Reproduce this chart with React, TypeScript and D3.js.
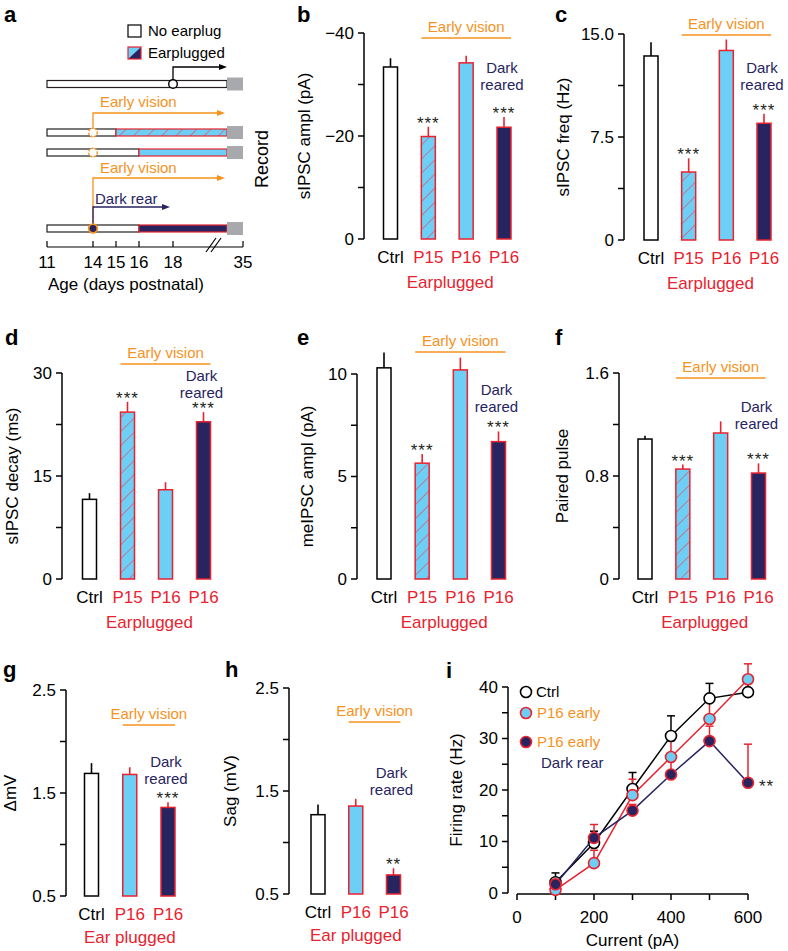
import React from "react";
import * as d3 from "d3";

const FONT = "'Liberation Sans', Arial, Helvetica, sans-serif";
const RED = "#E8232F";
const BLUE = "#6DCFF6";
const NAVY = "#27245F";
const ORANGE = "#F6921E";
const GRAY = "#A7A9AC";
const HATCH = "#D9576A";

// ---------- data ----------
const cats4 = ["Ctrl", "P15", "P16", "P16"];
const kinds4 = ["ctrl", "hatch", "blue", "dark"];
const cats3 = ["Ctrl", "P16", "P16"];
const kinds3 = ["ctrl", "blue", "dark"];

const amplMean = [-33.4, -19.9, -34.2, -21.7];
const amplSem = [1.7, 1.9, 1.4, 2.0];
const amplStars = ["", "***", "", "***"];
const amplTicks = [0, -10, -20, -30, -40];
const amplTickLabels = ["0", "", "\u221220", "", "\u221240"];

const freqMean = [13.4, 4.95, 13.8, 8.5];
const freqSem = [1.0, 1.0, 0.8, 0.7];
const freqStars = ["", "***", "", "***"];
const freqTicks = [0, 3.75, 7.5, 11.25, 15];
const freqTickLabels = ["0", "", "7.5", "", "15.0"];

const decayMean = [11.6, 24.3, 13.0, 22.9];
const decaySem = [0.9, 1.5, 1.1, 1.4];
const decayStars = ["", "***", "", "***"];
const decayTicks = [0, 7.5, 15, 22.5, 30];
const decayTickLabels = ["0", "", "15", "", "30"];

const meMean = [10.3, 5.65, 10.2, 6.7];
const meSem = [0.75, 0.45, 0.6, 0.5];
const meStars = ["", "***", "", "***"];
const meTicks = [0, 2.5, 5, 7.5, 10];
const meTickLabels = ["0", "", "5", "", "10"];

const ppMean = [1.087, 0.854, 1.134, 0.823];
const ppSem = [0.025, 0.035, 0.09, 0.075];
const ppStars = ["", "***", "", "***"];
const ppTicks = [0, 0.4, 0.8, 1.2, 1.6];
const ppTickLabels = ["0", "", "0.8", "", "1.6"];

const dmvMean = [1.69, 1.68, 1.36];
const dmvSem = [0.1, 0.07, 0.05];
const dmvStars = ["", "", "***"];
const sagMean = [1.27, 1.354, 0.685];
const sagSem = [0.1, 0.07, 0.065];
const sagStars = ["", "", "**"];
const mvTicks = [0.5, 1.0, 1.5, 2.0, 2.5];
const mvTickLabels = ["0.5", "", "1.5", "", "2.5"];

const currents = [100, 200, 300, 400, 500, 600];
const ctrlRate = [2.1, 9.7, 20.2, 30.5, 37.8, 39.0];
const ctrlRateSem = [1.8, 2.3, 3.2, 3.9, 2.9, 2.4];
const earlyRate = [0.6, 5.8, 19.0, 26.4, 33.8, 41.5];
const earlyRateSem = [1.5, 2.5, 3.1, 3.2, 3.3, 3.0];
const darkRate = [1.7, 10.7, 16.0, 23.0, 29.5, 21.4];
const darkRateSem = [1.0, 2.6, 1.2, 3.5, 2.9, 7.5];
const rateTicks = [0, 5, 10, 15, 20, 25, 30, 35, 40];
const currentTicks = [0, 100, 200, 300, 400, 500, 600];

const ageTicks = [11, 14, 15, 16, 18, 35];
const rowPlugStart = [null, 15, 16, 16];
const rowPlugKind = ["none", "hatch", "blue", "dark"];
const rowMarkerDay = [18, 14, 14, 14];
const rowMarkerKind = ["open", "dashed", "dashed", "dark"];

// ---------- helpers ----------
const fillFor = (k: string) =>
  k === "ctrl" ? "#fff" : k === "hatch" ? "url(#hatch)" : k === "blue" ? BLUE : NAVY;
const strokeFor = (k: string) => (k === "ctrl" ? "#000" : RED);

type BarPanelProps = {
  letter: string;
  letterX: number;
  letterY: number;
  axisX: number;
  y0: number;
  y1: number;
  domain: [number, number];
  ticks: number[];
  tickLabels: string[];
  firstCenter: number;
  lastCenter: number;
  cats: string[];
  kinds: string[];
  means: number[];
  sems: number[];
  stars: string[];
  yTitle: string;
  yTitleX: number;
  earlyY: number;
  darkY: number;
  groupLabel: string;
  groupDy: number;
};

function BarPanel(p: BarPanelProps) {
  const y = d3.scaleLinear().domain(p.domain).range([p.y0, p.y1]);
  const n = p.means.length;
  const x = d3.scalePoint<number>().domain(d3.range(n)).range([p.firstCenter, p.lastCenter]);
  const bw = 14;
  const sign = p.domain[1] < p.domain[0] ? -1 : 1;
  const base = p.domain[0];
  const cx = (i: number) => x(i) as number;
  const groupX = n === 4 ? (cx(1) + cx(2)) / 2 + 3 : cx(1);
  const yMid = (p.y0 + p.y1) / 2;
  return (
    <g fontFamily={FONT}>
      <text x={p.letterX} y={p.letterY} fontSize={22} fontWeight="bold">
        {p.letter}
      </text>
      <line x1={p.axisX} x2={p.axisX} y1={p.y0} y2={p.y1} stroke="#000" strokeWidth={1.5} />
      {p.ticks.map((t, i) => (
        <g key={i}>
          <line x1={p.axisX - 6} x2={p.axisX} y1={y(t)} y2={y(t)} stroke="#000" strokeWidth={1.5} />
          {p.tickLabels[i] && (
            <text x={p.axisX - 10} y={y(t)} dy="0.35em" textAnchor="end" fontSize={17}>
              {p.tickLabels[i]}
            </text>
          )}
        </g>
      ))}
      <text
        transform={`translate(${p.yTitleX},${yMid}) rotate(-90)`}
        textAnchor="middle"
        fontSize={17}
      >
        {p.yTitle}
      </text>
      {p.means.map((m, i) => {
        const top = Math.min(y(base), y(m));
        const h = Math.abs(y(base) - y(m));
        const errY = y(m + sign * p.sems[i]);
        return (
          <g key={i}>
            <line x1={cx(i)} x2={cx(i)} y1={y(m)} y2={errY} stroke={strokeFor(p.kinds[i])} strokeWidth={1.6} />
            <rect
              x={cx(i) - bw / 2}
              y={top}
              width={bw}
              height={h}
              fill={fillFor(p.kinds[i])}
              stroke={strokeFor(p.kinds[i])}
              strokeWidth={1.5}
            />
            {p.stars[i] && (
              <text x={cx(i)} y={errY + 2} textAnchor="middle" fontSize={17} letterSpacing={1} fill="#231F20">
                {p.stars[i]}
              </text>
            )}
            <text
              x={cx(i)}
              y={p.y0 + 24}
              textAnchor="middle"
              fontSize={17}
              fill={p.kinds[i] === "ctrl" ? "#000" : RED}
            >
              {p.cats[i]}
            </text>
          </g>
        );
      })}
      <text x={groupX} y={p.y0 + p.groupDy} textAnchor="middle" fontSize={17} fill={RED}>
        {p.groupLabel}
      </text>
      <line
        x1={cx(1) - bw / 2}
        x2={cx(n - 1) + bw / 2}
        y1={p.earlyY}
        y2={p.earlyY}
        stroke={ORANGE}
        strokeWidth={1.6}
      />
      <text
        x={(cx(1) + cx(n - 1)) / 2}
        y={p.earlyY - 6}
        textAnchor="middle"
        fontSize={15}
        fill={ORANGE}
      >
        Early vision
      </text>
      <text x={cx(n - 1) - 2} y={p.darkY} textAnchor="middle" fontSize={15} fill={NAVY}>
        Dark
      </text>
      <text x={cx(n - 1) - 2} y={p.darkY + 17} textAnchor="middle" fontSize={15} fill={NAVY}>
        reared
      </text>
    </g>
  );
}

function Arrow({ d, color, tipX, tipY }: { d: string; color: string; tipX: number; tipY: number }) {
  return (
    <g>
      <path d={d} fill="none" stroke={color} strokeWidth={1.3} />
      <polygon points={`${tipX},${tipY} ${tipX - 8},${tipY - 3} ${tipX - 8},${tipY + 3}`} fill={color} />
    </g>
  );
}

function PanelA() {
  const ax = d3.scaleLinear().domain(ageTicks).range([47, 93, 116, 139, 173, 243]);
  const rowY = [84, 132.5, 152.5, 228.5];
  const barH = 7;
  const endX = ax(35) - 16;
  return (
    <g fontFamily={FONT}>
      <text x={4} y={22} fontSize={22} fontWeight="bold">
        a
      </text>
      {/* legend */}
      <rect x={128} y={25} width={13} height={12} fill="#fff" stroke="#000" strokeWidth={1.2} />
      <text x={148} y={36} fontSize={15}>
        No earplug
      </text>
      <polygon points="128,47 141,47 128,59" fill={BLUE} />
      <polygon points="141,47 141,59 128,59" fill={NAVY} />
      <rect x={128} y={47} width={13} height={12} fill="none" stroke={RED} strokeWidth={1.2} />
      <text x={148} y={58} fontSize={15}>
        Earplugged
      </text>

      {/* arrows */}
      <Arrow d={`M${ax(18)},${rowY[0] - 4} V67 H222`} color="#000" tipX={227} tipY={67} />
      <text x={100} y={107} fontSize={15} fill={ORANGE}>
        Early vision
      </text>
      <Arrow d={`M${ax(14)},${rowY[1] - 4} V113 H220`} color={ORANGE} tipX={225} tipY={113} />
      <text x={100} y={173} fontSize={15} fill={ORANGE}>
        Early vision
      </text>
      <Arrow d={`M${ax(14)},${rowY[3] - 4} V178 H220`} color={ORANGE} tipX={225} tipY={178} />
      <text x={95} y={204} fontSize={15} fill={NAVY}>
        Dark rear
      </text>
      <Arrow d={`M${ax(14)},${rowY[3] - 4} V207 H165`} color={NAVY} tipX={170} tipY={207} />

      {rowY.map((ry, i) => {
        const ps = rowPlugStart[i];
        const whiteEnd = ps == null ? endX : ax(ps);
        const kind = rowPlugKind[i];
        const mk = rowMarkerKind[i];
        return (
          <g key={i}>
            <rect
              x={ax(11)}
              y={ry - barH / 2}
              width={whiteEnd - ax(11)}
              height={barH}
              fill="#fff"
              stroke="#231F20"
              strokeWidth={1.2}
            />
            {ps != null && (
              <rect
                x={ax(ps)}
                y={ry - barH / 2}
                width={endX - ax(ps)}
                height={barH}
                fill={fillFor(kind)}
                stroke={RED}
                strokeWidth={1.2}
              />
            )}
            <rect x={endX} y={ry - 6.5} width={ax(35) - endX} height={13} fill={GRAY} />
            <circle
              cx={ax(rowMarkerDay[i])}
              cy={ry}
              r={4.3}
              fill={mk === "dark" ? NAVY : "#fff"}
              stroke={mk === "open" ? "#000" : ORANGE}
              strokeWidth={mk === "dark" ? 1.8 : 1.4}
              strokeDasharray={mk === "dashed" ? "2.2 1.4" : undefined}
            />
          </g>
        );
      })}
      <text transform={`translate(268,159) rotate(-90)`} textAnchor="middle" fontSize={18}>
        Record
      </text>

      {/* axis */}
      <line x1={ax(11)} x2={ax(35)} y1={247} y2={247} stroke="#000" strokeWidth={1.2} />
      {ageTicks.map((t) => (
        <g key={t}>
          <line x1={ax(t)} x2={ax(t)} y1={241} y2={247} stroke="#000" strokeWidth={1.2} />
          <text x={ax(t)} y={268} textAnchor="middle" fontSize={17}>
            {t}
          </text>
        </g>
      ))}
      <line x1={206} y1={252} x2={216} y2={238} stroke="#000" strokeWidth={1.2} />
      <line x1={211} y1={252} x2={221} y2={238} stroke="#000" strokeWidth={1.2} />
      <text x={126} y={290} textAnchor="middle" fontSize={17}>
        Age (days postnatal)
      </text>
    </g>
  );
}

function PanelI() {
  const x = d3.scaleLinear().domain([0, 600]).range([517, 748]);
  const y = d3.scaleLinear().domain([0, 40]).range([893, 687]);
  const axisX = 508;
  const line = d3
    .line<number>()
    .x((_, i) => x(currents[i]))
    .y((v) => y(v));
  const series = [
    { vals: ctrlRate, sems: ctrlRateSem, stroke: "#000", fill: "#fff", line: "#000", err: "#000" },
    { vals: earlyRate, sems: earlyRateSem, stroke: RED, fill: BLUE, line: RED, err: RED },
    { vals: darkRate, sems: darkRateSem, stroke: RED, fill: NAVY, line: NAVY, err: RED },
  ];
  return (
    <g fontFamily={FONT}>
      <text x={446} y={678} fontSize={22} fontWeight="bold">
        i
      </text>
      <line x1={axisX} x2={axisX} y1={y(0)} y2={y(40)} stroke="#000" strokeWidth={1.5} />
      {rateTicks.map((t) => (
        <g key={t}>
          <line x1={axisX - 6} x2={axisX} y1={y(t)} y2={y(t)} stroke="#000" strokeWidth={1.5} />
          {t % 10 === 0 && (
            <text x={axisX - 10} y={y(t)} dy="0.35em" textAnchor="end" fontSize={17}>
              {t}
            </text>
          )}
        </g>
      ))}
      <line x1={x(0)} x2={x(600)} y1={y(0) + 1} y2={y(0) + 1} stroke="#000" strokeWidth={1.5} />
      {currentTicks.map((t) => (
        <g key={t}>
          <line x1={x(t)} x2={x(t)} y1={y(0) + 1} y2={y(0) + 7} stroke="#000" strokeWidth={1.5} />
          {t % 200 === 0 && (
            <text x={x(t)} y={y(0) + 30} textAnchor="middle" fontSize={17}>
              {t}
            </text>
          )}
        </g>
      ))}
      <text x={(x(0) + x(600)) / 2} y={946} textAnchor="middle" fontSize={17}>
        Current (pA)
      </text>
      <text transform={`translate(462,${(y(0) + y(40)) / 2}) rotate(-90)`} textAnchor="middle" fontSize={17}>
        Firing rate (Hz)
      </text>
      {series.map((s, si) => (
        <g key={"e" + si}>
          {s.vals.map((v, i) => (
            <g key={i}>
              <line x1={x(currents[i])} x2={x(currents[i])} y1={y(v)} y2={y(v + s.sems[i])} stroke={s.err} strokeWidth={1.5} />
              <line
                x1={x(currents[i]) - 4}
                x2={x(currents[i]) + 4}
                y1={y(v + s.sems[i])}
                y2={y(v + s.sems[i])}
                stroke={s.err}
                strokeWidth={1.5}
              />
            </g>
          ))}
        </g>
      ))}
      {series.map((s, si) => (
        <g key={"s" + si}>
          <path d={line(s.vals) || ""} fill="none" stroke={s.line} strokeWidth={1.5} />
          {s.vals.map((v, i) => (
            <circle key={i} cx={x(currents[i])} cy={y(v)} r={5.5} fill={s.fill} stroke={s.stroke} strokeWidth={1.6} />
          ))}
        </g>
      ))}
      <text x={x(600) + 11} y={y(darkRate[5]) + 9} fontSize={17} letterSpacing={1} fill="#231F20">
        **
      </text>
      {/* legend */}
      <circle cx={526} cy={692} r={5.5} fill="#fff" stroke="#000" strokeWidth={1.6} />
      <text x={536} y={697} fontSize={15}>
        Ctrl
      </text>
      <circle cx={526} cy={713} r={5.5} fill={BLUE} stroke={RED} strokeWidth={1.6} />
      <text x={537} y={718} fontSize={15} fill={ORANGE}>
        P16 early
      </text>
      <circle cx={526} cy={742} r={5.5} fill={NAVY} stroke={RED} strokeWidth={1.6} />
      <text x={537} y={747} fontSize={15} fill={ORANGE}>
        P16 early
      </text>
      <text x={541} y={768} fontSize={15} fill={NAVY}>
        Dark rear
      </text>
    </g>
  );
}

export default function App() {
  return (
    <svg
      width={788}
      height={951}
      style={{ position: "absolute", left: 0, top: 0, background: "#fff" }}
    >
      <defs>
        <pattern id="hatch" patternUnits="userSpaceOnUse" width={10} height={10} patternTransform="rotate(45)">
          <rect width={10} height={10} fill={BLUE} />
          <line x1={0} y1={0} x2={0} y2={10} stroke={HATCH} strokeWidth={1.4} />
        </pattern>
      </defs>
      <rect width={788} height={951} fill="#fff" />
      <PanelA />
      <BarPanel
        letter="b" letterX={297} letterY={22} axisX={364} y0={239} y1={33} domain={[0, -40]}
        ticks={amplTicks} tickLabels={amplTickLabels} firstCenter={390.5} lastCenter={504}
        cats={cats4} kinds={kinds4} means={amplMean} sems={amplSem} stars={amplStars}
        yTitle="sIPSC ampl (pA)" yTitleX={310} earlyY={38} darkY={73} groupLabel="Earplugged" groupDy={49}
      />
      <BarPanel
        letter="c" letterX={555} letterY={22} axisX={624} y0={240} y1={34} domain={[0, 15]}
        ticks={freqTicks} tickLabels={freqTickLabels} firstCenter={651} lastCenter={764}
        cats={cats4} kinds={kinds4} means={freqMean} sems={freqSem} stars={freqStars}
        yTitle="sIPSC freq (Hz)" yTitleX={569} earlyY={35} darkY={73} groupLabel="Earplugged" groupDy={49}
      />
      <BarPanel
        letter="d" letterX={5} letterY={345} axisX={62} y0={579} y1={373} domain={[0, 30]}
        ticks={decayTicks} tickLabels={decayTickLabels} firstCenter={89.5} lastCenter={203.5}
        cats={cats4} kinds={kinds4} means={decayMean} sems={decaySem} stars={decayStars}
        yTitle="sIPSC decay (ms)" yTitleX={18} earlyY={364} darkY={381} groupLabel="Earplugged" groupDy={49}
      />
      <BarPanel
        letter="e" letterX={297} letterY={345} axisX={357} y0={579} y1={374} domain={[0, 10]}
        ticks={meTicks} tickLabels={meTickLabels} firstCenter={384} lastCenter={498.5}
        cats={cats4} kinds={kinds4} means={meMean} sems={meSem} stars={meStars}
        yTitle="meIPSC ampl (pA)" yTitleX={313} earlyY={352} darkY={395} groupLabel="Earplugged" groupDy={49}
      />
      <BarPanel
        letter="f" letterX={555} letterY={345} axisX={619} y0={579} y1={373} domain={[0, 1.6]}
        ticks={ppTicks} tickLabels={ppTickLabels} firstCenter={645} lastCenter={758.5}
        cats={cats4} kinds={kinds4} means={ppMean} sems={ppSem} stars={ppStars}
        yTitle="Paired pulse" yTitleX={568} earlyY={378} darkY={412} groupLabel="Earplugged" groupDy={49}
      />
      <BarPanel
        letter="g" letterX={3} letterY={677} axisX={66} y0={896} y1={690} domain={[0.5, 2.5]}
        ticks={mvTicks} tickLabels={mvTickLabels} firstCenter={91.5} lastCenter={168}
        cats={cats3} kinds={kinds3} means={dmvMean} sems={dmvSem} stars={dmvStars}
        yTitle="ΔmV" yTitleX={16} earlyY={725} darkY={767} groupLabel="Ear plugged" groupDy={47}
      />
      <BarPanel
        letter="h" letterX={225} letterY={677} axisX={289} y0={894} y1={688} domain={[0.5, 2.5]}
        ticks={mvTicks} tickLabels={mvTickLabels} firstCenter={318} lastCenter={393.5}
        cats={cats3} kinds={kinds3} means={sagMean} sems={sagSem} stars={sagStars}
        yTitle="Sag (mV)" yTitleX={236} earlyY={722} darkY={778} groupLabel="Ear plugged" groupDy={47}
      />
      <PanelI />
    </svg>
  );
}
